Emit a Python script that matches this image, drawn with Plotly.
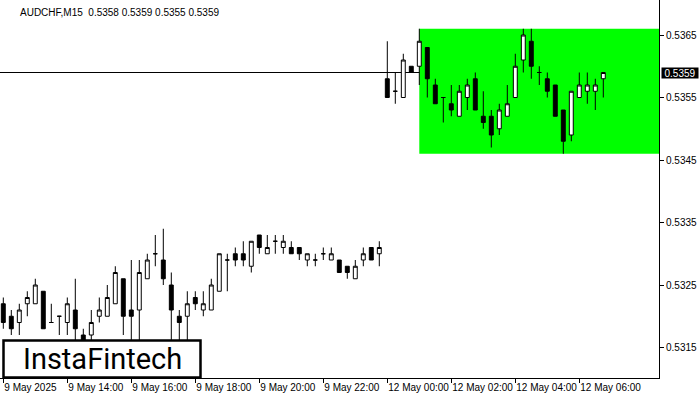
import plotly.graph_objects as go

# ---------------- data (AUDCHF, M15) ----------------
symbol = "AUDCHF,M15"

opens = [0.5322, 0.5320, 0.5319, 0.5322, 0.5322, 0.5324, 0.5319, 0.5320, 0.5319, 0.5321,
         0.5317, 0.5317, 0.5320, 0.5320, 0.5322, 0.5326, 0.5321, 0.5321, 0.5326, 0.5330,
         0.5329, 0.5325, 0.5320, 0.5320, 0.5323, 0.5321, 0.5321, 0.5324, 0.5329, 0.5330,
         0.5330, 0.5328, 0.5333, 0.5330, 0.5332, 0.5331, 0.5331, 0.5331, 0.5329, 0.5329,
         0.5330, 0.5329, 0.5329, 0.5328, 0.5326, 0.5329, 0.5331, 0.5330,
         0.5358, 0.5356, 0.5355, 0.5360, 0.5360, 0.5363, 0.5357, 0.5355, 0.5354, 0.5352,
         0.5355, 0.5358, 0.5352, 0.5352, 0.5350, 0.5352, 0.5355, 0.5361, 0.5364, 0.5359,
         0.5358, 0.5357, 0.5353, 0.5349, 0.5355, 0.5356, 0.5356, 0.5358]

highs = [0.5323, 0.5321, 0.5322, 0.5324, 0.5326, 0.5324, 0.5322, 0.5320, 0.5323, 0.5326,
         0.5318, 0.5321, 0.5323, 0.5325, 0.5328, 0.5326, 0.5329, 0.5329, 0.5330, 0.5333,
         0.5334, 0.5327, 0.5321, 0.5324, 0.5324, 0.5324, 0.5326, 0.5330, 0.5330, 0.5331,
         0.5332, 0.5332, 0.5333, 0.5333, 0.5333, 0.5333, 0.5332, 0.5331, 0.5330, 0.5330,
         0.5331, 0.5331, 0.5329, 0.5328, 0.5329, 0.5331, 0.5331, 0.5332,
         0.5364, 0.5359, 0.5362, 0.5360, 0.5366, 0.5363, 0.5358, 0.5355, 0.5357, 0.5357,
         0.5358, 0.5359, 0.5356, 0.5353, 0.5354, 0.5357, 0.5362, 0.5366, 0.5366, 0.5360,
         0.5359, 0.5357, 0.5353, 0.5356, 0.5359, 0.5359, 0.5358, 0.5359]

lows = [0.5318, 0.5317, 0.5317, 0.5320, 0.5322, 0.5318, 0.5319, 0.5317, 0.5317, 0.5314,
        0.5315, 0.5315, 0.5319, 0.5320, 0.5322, 0.5317, 0.5315, 0.5315, 0.5326, 0.5328,
        0.5325, 0.5316, 0.5315, 0.5315, 0.5321, 0.5320, 0.5321, 0.5324, 0.5324, 0.5328,
        0.5328, 0.5327, 0.5330, 0.5330, 0.5330, 0.5330, 0.5330, 0.5329, 0.5328, 0.5328,
        0.5329, 0.5329, 0.5327, 0.5326, 0.5326, 0.5328, 0.5329, 0.5328,
        0.5355, 0.5354, 0.5355, 0.5359, 0.5357, 0.5355, 0.5354, 0.5351, 0.5352, 0.5352,
        0.5353, 0.5353, 0.5350, 0.5347, 0.5349, 0.5352, 0.5355, 0.5359, 0.5358, 0.5357,
        0.5355, 0.5352, 0.5346, 0.5348, 0.5355, 0.5354, 0.5353, 0.5355]

closes = [0.5319, 0.5318, 0.5321, 0.5323, 0.5325, 0.5318, 0.5319, 0.5320, 0.5322, 0.5318,
          0.5316, 0.5319, 0.5321, 0.5323, 0.5327, 0.5320, 0.5320, 0.5327, 0.5329, 0.5330,
          0.5326, 0.5321, 0.5319, 0.5322, 0.5322, 0.5322, 0.5325, 0.5330, 0.5329, 0.5329,
          0.5329, 0.5332, 0.5331, 0.5331, 0.5332, 0.5332, 0.5330, 0.5330, 0.5330, 0.5329,
          0.5330, 0.5330, 0.5327, 0.5327, 0.5328, 0.5330, 0.5329, 0.5331,
          0.5355, 0.5356, 0.5361, 0.5359, 0.5364, 0.5358, 0.5354, 0.5355, 0.5353, 0.5356,
          0.5357, 0.5353, 0.5351, 0.5349, 0.5353, 0.5354, 0.5360, 0.5365, 0.5360, 0.5359,
          0.5356, 0.5352, 0.5348, 0.5356, 0.5357, 0.5357, 0.5357, 0.5359]

tick_index = [0, 8, 16, 24, 32, 40, 48, 56, 64, 72]
tick_labels = ["9 May 2025", "9 May 14:00", "9 May 16:00", "9 May 18:00", "9 May 20:00",
               "9 May 22:00", "12 May 00:00", "12 May 02:00", "12 May 04:00", "12 May 06:00"]

price_ticks = [0.5315, 0.5325, 0.5335, 0.5345, 0.5355, 0.5365]

zone_start_index = 52          # rectangle begins at this candle
zone_top = 0.5366
zone_bottom = 0.5346
current_price = closes[-1]

assert len(opens) == len(highs) == len(lows) == len(closes)
n = len(opens)
xs = list(range(n))

# ---------------- layout constants ----------------
W, H = 700, 400
PLOT_W, PLOT_H = 659, 378
PX_PER_BAR = 8.0
FIRST_BAR_PX = 3.3
x_range = [-FIRST_BAR_PX / PX_PER_BAR, (PLOT_W - FIRST_BAR_PX) / PX_PER_BAR]
PX_PER_PRICE = 62500.0
y_range = [0.5365 - (PLOT_H - 35) / PX_PER_PRICE, 0.5365 + 35 / PX_PER_PRICE]

FONT = "Liberation Sans"

fig = go.Figure()
fig.add_trace(go.Candlestick(
    x=xs, open=opens, high=highs, low=lows, close=closes,
    increasing=dict(fillcolor="white", line=dict(color="black", width=1)),
    decreasing=dict(fillcolor="black", line=dict(color="black", width=1)),
    whiskerwidth=0, hoverinfo="skip", showlegend=False,
))

shapes = [
    dict(type="rect", xref="x", yref="y", x0=zone_start_index, x1=x_range[1],
         y0=zone_bottom, y1=zone_top, fillcolor="#00FF00", line=dict(width=0), layer="below"),
    dict(type="line", xref="paper", yref="y", x0=0, x1=1, y0=current_price, y1=current_price,
         line=dict(color="black", width=1), layer="below"),
    dict(type="rect", xref="paper", yref="paper",
         x0=3.5 / PLOT_W, x1=200.5 / PLOT_W, y0=0.5 / PLOT_H, y1=(PLOT_H - 340.5) / PLOT_H,
         fillcolor="white", line=dict(color="black", width=2.5), layer="above"),
]

o, h, l, c = opens[-1], highs[-1], lows[-1], closes[-1]
annotations = [
    dict(text=f"{symbol}  {o:.4f} {h:.4f} {l:.4f} {c:.4f}", xref="paper", yref="paper",
         x=18 / PLOT_W, y=1 - 12 / PLOT_H, xanchor="left", yanchor="middle", showarrow=False,
         font=dict(family=FONT, size=10, color="black")),
    dict(text=f"{current_price:.4f}", xref="paper", yref="y", x=1, y=current_price,
         xanchor="left", yanchor="middle", xshift=2, showarrow=False,
         bgcolor="black", width=36, height=10, borderpad=0,
         font=dict(family=FONT, size=10, color="white")),
    dict(text="InstaFintech", xref="paper", yref="paper",
         x=102 / PLOT_W, y=(PLOT_H - 359) / PLOT_H, xanchor="center", yanchor="middle",
         showarrow=False, font=dict(family="Roboto", size=29, color="black")),
]

fig.update_layout(
    width=W, height=H,
    margin=dict(l=0, r=W - PLOT_W, t=0, b=H - PLOT_H, pad=0, autoexpand=False),
    paper_bgcolor="white", plot_bgcolor="white",
    shapes=shapes, annotations=annotations, showlegend=False,
    font=dict(family=FONT, size=10, color="black"),
    xaxis=dict(range=x_range, tickvals=tick_index, ticktext=tick_labels, tickangle=0,
               ticks="outside", ticklen=4, tickcolor="black", tickwidth=1,
               showline=True, linecolor="black", linewidth=1, automargin=False,
               showgrid=False, zeroline=False, ticklabelposition="outside right",
               rangeslider=dict(visible=False), fixedrange=True,
               tickfont=dict(family=FONT, size=10, color="black")),
    yaxis=dict(range=y_range, side="right", tickvals=price_ticks, tickformat=".4f",
               ticks="outside", ticklen=4, tickcolor="black", tickwidth=1,
               showline=True, linecolor="black", linewidth=1, automargin=False,
               showgrid=False, zeroline=False, fixedrange=True,
               tickfont=dict(family=FONT, size=10, color="black")),
)

fig.write_html("out.html", config={"displayModeBar": False},
               post_script="document.body.style.margin='0';document.body.style.overflow='hidden';")
